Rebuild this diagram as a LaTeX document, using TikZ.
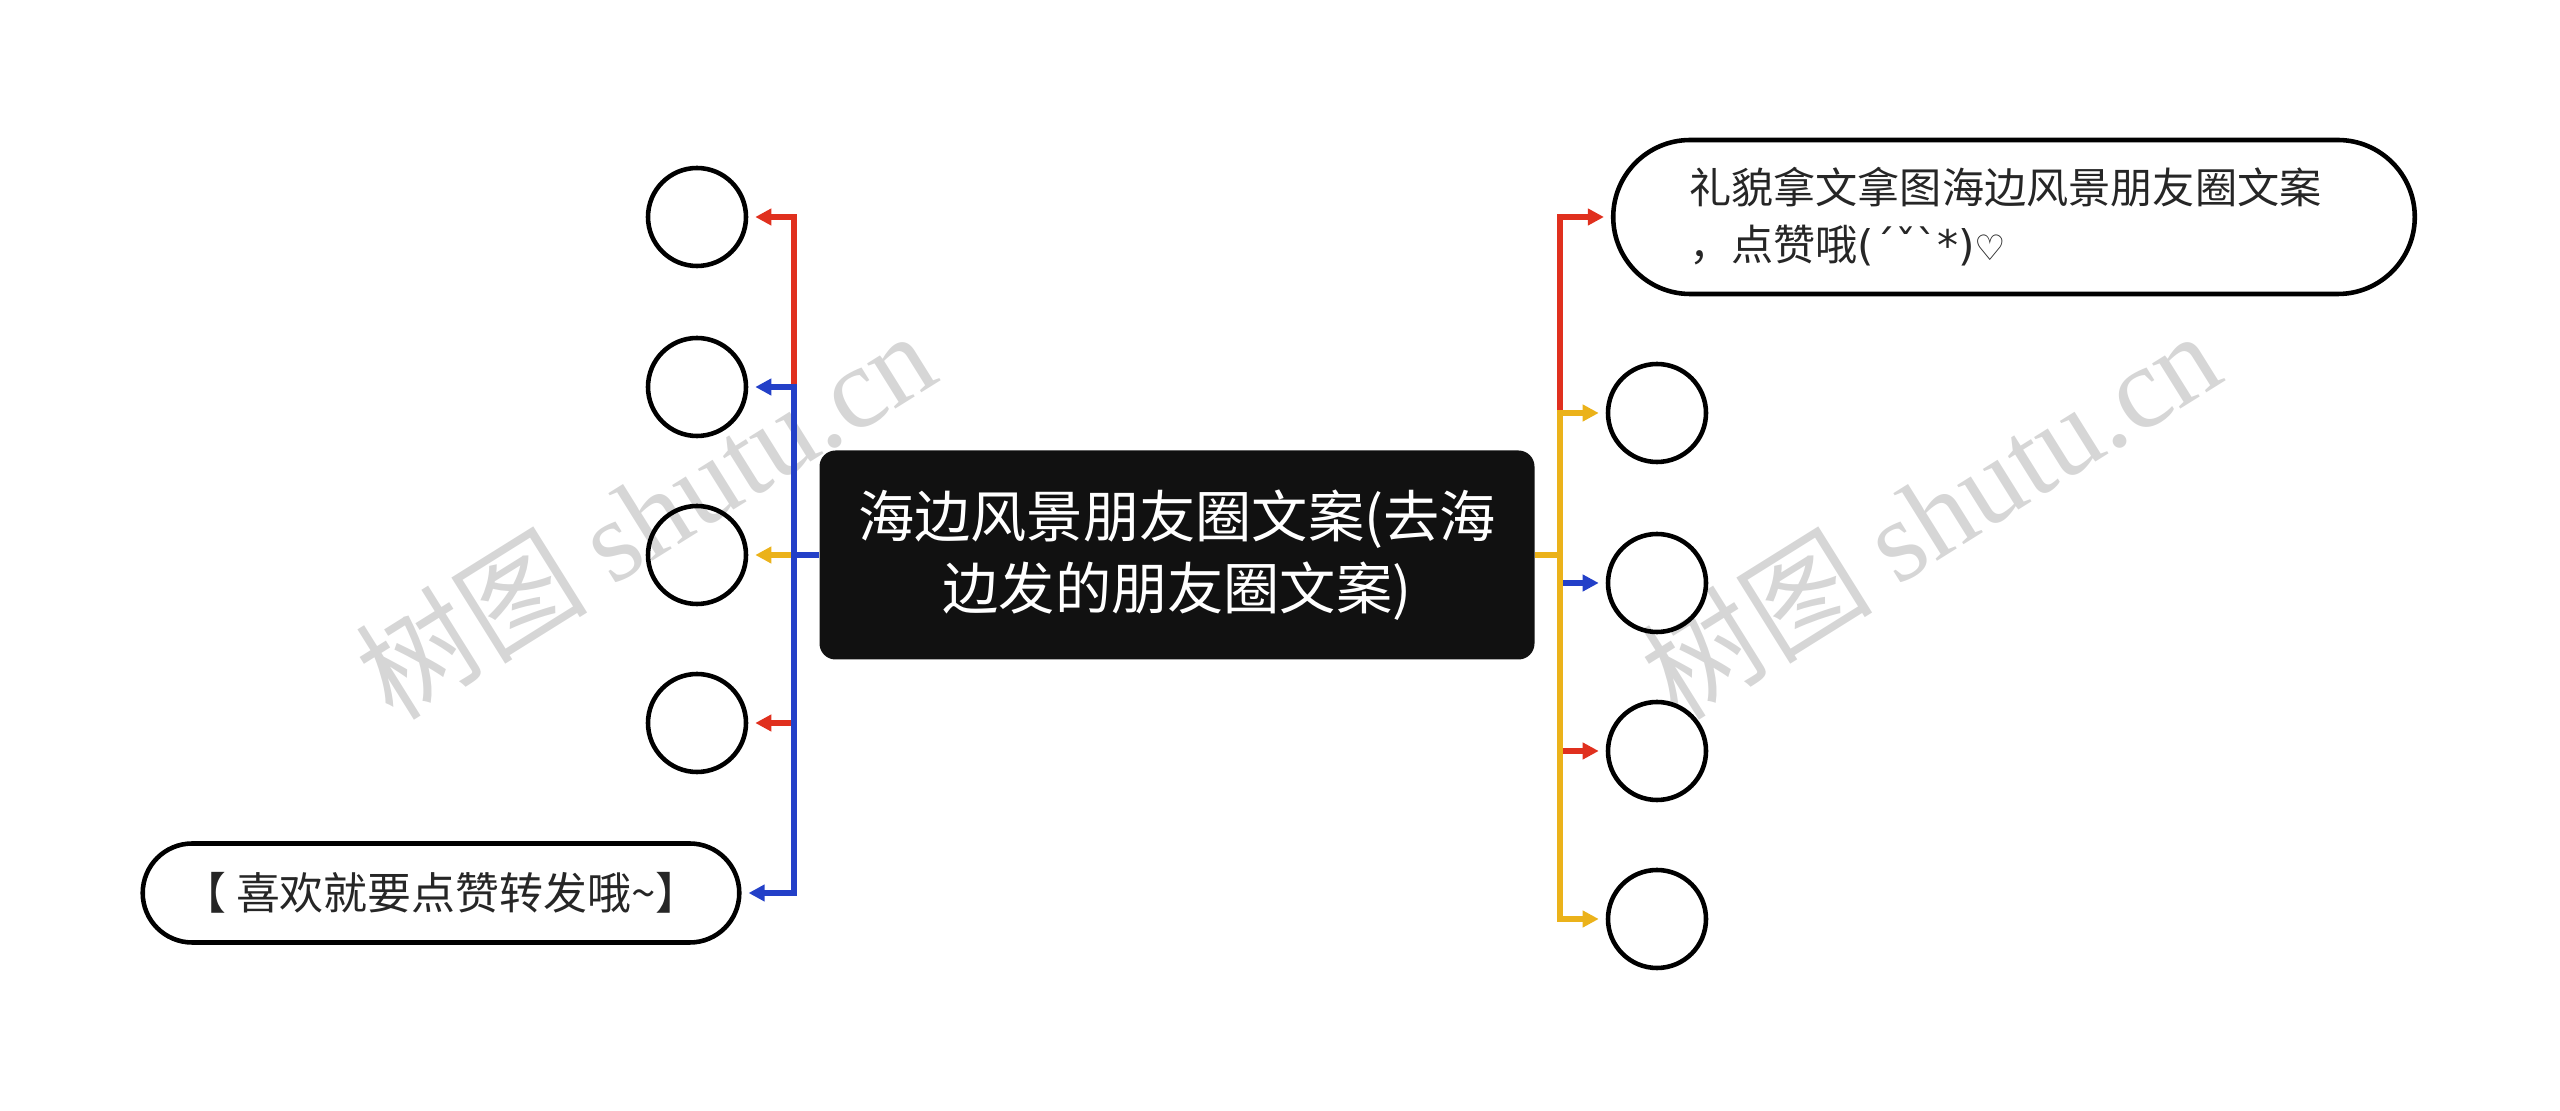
\documentclass[tikz,border=0pt]{standalone}
\usepackage{fontspec}
\setmainfont{Noto Sans CJK SC}
\newfontfamily\wmfont{Liberation Serif}
\newfontfamily\symfont{DejaVu Sans}
\usepackage{tikz}
\usetikzlibrary{shapes.misc, arrows.meta}
\definecolor{edgered}{HTML}{E0301E}
\definecolor{edgeblue}{HTML}{2340C8}
\definecolor{edgeyellow}{HTML}{EBB21A}
\definecolor{rootfill}{HTML}{111111}

\begin{document}
\begin{tikzpicture}[x=0.1mm, y=-0.1mm,
    rootbox/.style={rectangle, rounded corners=1.6mm, fill=rootfill, text=white,
        minimum width=7.15cm, minimum height=2.09cm, align=center,
        font=\fontsize{16pt}{20.5pt}\selectfont},
    leaf/.style={circle, draw=black, line width=1.3pt, minimum size=0.98cm, inner sep=0pt},
    pill/.style={rounded rectangle, draw=black, line width=1.3pt, text=black!85},
    edge/.style={line width=1.6pt, -{Triangle[length=1.6mm, width=1.6mm]}, shorten >=0.7mm},
    watermark/.style={text=black!16, rotate=32, font=\fontsize{33pt}{38pt}\selectfont}]
    \useasboundingbox (0,0) rectangle (2560,1111);

    % Watermarks
    \node[watermark] (wm1) at (645,514) {树图 {\wmfont shutu.cn}};
    \node[watermark] (wm2) at (1930,514) {树图 {\wmfont shutu.cn}};

    % Root
    \node[rootbox] (root) at (1177,555) {海边风景朋友圈文案(去海\\边发的朋友圈文案)};

    % Trunk points
    \coordinate (ltrunk) at (794,555);
    \coordinate (rtrunk) at (1560,555);

    % Left children
    \foreach \i/\y in {1/217, 2/387, 3/555, 4/723}
        \node[leaf] (l\i) at (697,\y) {};
    \node[pill, minimum width=6.2cm, minimum height=0.99cm, font=\fontsize{12.5pt}{15pt}\selectfont] (l5) at (441,893)
        {【 喜欢就要点赞转发哦\textasciitilde】};

    % Right children
    \node[pill, minimum width=8.25cm, minimum height=1.54cm, text width=6.5cm, align=left,
        font=\fontsize{12pt}{16.2pt}\selectfont] (r0) at (2014,217)
        {礼貌拿文拿图海边风景朋友圈文案\\，点赞哦{\symfont(ˊˇˋ*)\fontsize{10pt}{12pt}\selectfont♡}};
    \foreach \i/\y in {1/413, 2/583, 3/751, 4/919}
        \node[leaf] (r\i) at (1657,\y) {};

    % Left connectors
    \draw[edge, edgered] (root.west) -- (ltrunk) |- (l1.east);
    \draw[edge, edgeblue] (root.west) -- (ltrunk) |- (l2.east);
    \draw[edge, edgeyellow] (ltrunk) -- (l3.east);
    \draw[edge, edgered] (root.west) -- (ltrunk) |- (l4.east);
    \draw[edge, edgeblue] (root.west) -- (ltrunk) |- (l5.east);

    % Right connectors
    \draw[edge, edgered] (root.east) -- (rtrunk) |- (r0.west);
    \draw[edge, edgeyellow] (root.east) -- (rtrunk) |- (r1.west);
    \draw[edge, edgeblue] (root.east) -- (rtrunk) |- (r2.west);
    \draw[edge, edgered] (root.east) -- (rtrunk) |- (r3.west);
    \draw[edge, edgeyellow] (root.east) -- (rtrunk) |- (r4.west);
\end{tikzpicture}
\end{document}
